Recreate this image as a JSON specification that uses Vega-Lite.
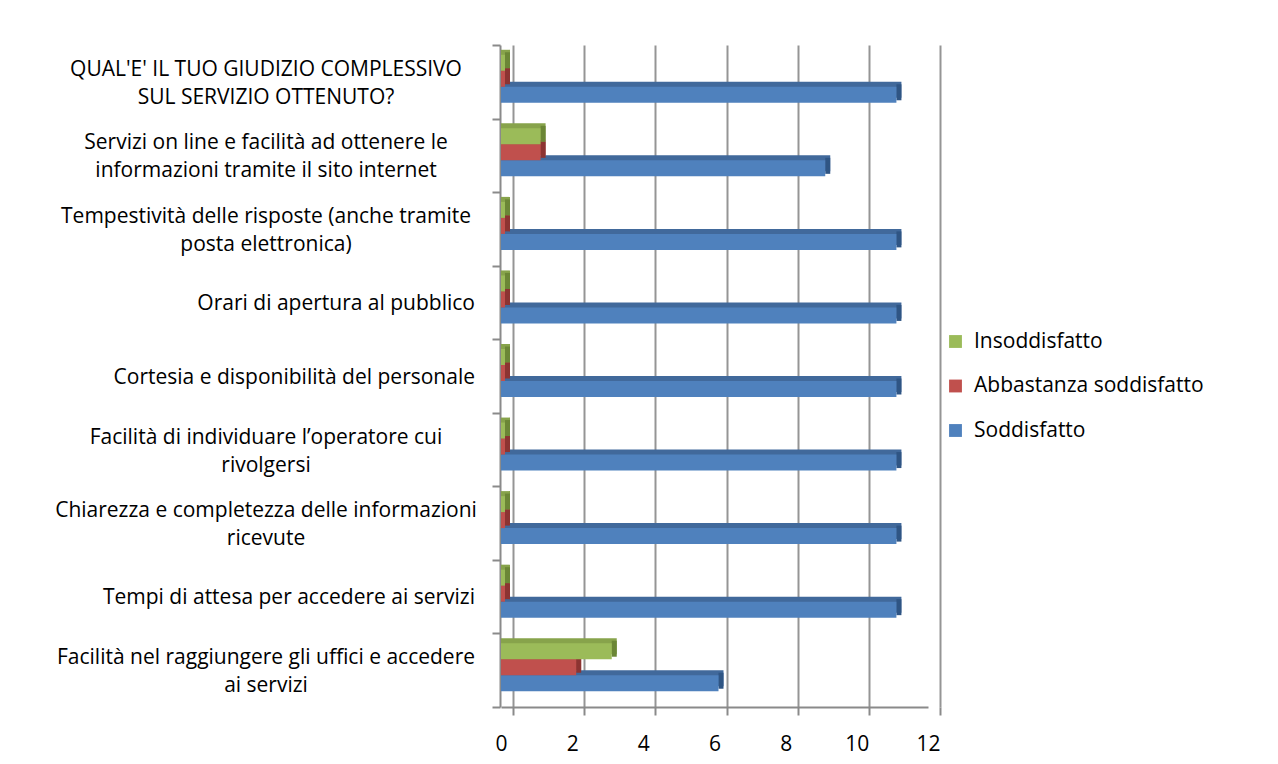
{
  "$schema": "https://vega.github.io/schema/vega-lite/v6.json",
  "width": 427,
  "height": 662,
  "autosize": {"type": "none"},
  "padding": {"left": 501, "top": 45, "right": 350, "bottom": 57},
  "background": "white",
  "title": {"text": "Farmacia comunale", "anchor": "start", "frame": "group", "font": "Liberation Serif", "fontSize": 37, "fontWeight": "bold", "color": "#000000", "offset": 37, "baseline": "alphabetic", "dx": -501},
  "data": {"values": [
    {"domanda": "QUAL'E' IL TUO GIUDIZIO COMPLESSIVO\nSUL SERVIZIO OTTENUTO?", "giudizio": "Soddisfatto", "n": 11},
    {"domanda": "QUAL'E' IL TUO GIUDIZIO COMPLESSIVO\nSUL SERVIZIO OTTENUTO?", "giudizio": "Abbastanza soddisfatto", "n": 0},
    {"domanda": "QUAL'E' IL TUO GIUDIZIO COMPLESSIVO\nSUL SERVIZIO OTTENUTO?", "giudizio": "Insoddisfatto", "n": 0},
    {"domanda": "Servizi on line e facilità ad ottenere le\ninformazioni tramite il sito internet", "giudizio": "Soddisfatto", "n": 9},
    {"domanda": "Servizi on line e facilità ad ottenere le\ninformazioni tramite il sito internet", "giudizio": "Abbastanza soddisfatto", "n": 1},
    {"domanda": "Servizi on line e facilità ad ottenere le\ninformazioni tramite il sito internet", "giudizio": "Insoddisfatto", "n": 1},
    {"domanda": "Tempestività delle risposte (anche tramite\nposta elettronica)", "giudizio": "Soddisfatto", "n": 11},
    {"domanda": "Tempestività delle risposte (anche tramite\nposta elettronica)", "giudizio": "Abbastanza soddisfatto", "n": 0},
    {"domanda": "Tempestività delle risposte (anche tramite\nposta elettronica)", "giudizio": "Insoddisfatto", "n": 0},
    {"domanda": "Orari di apertura al pubblico", "giudizio": "Soddisfatto", "n": 11},
    {"domanda": "Orari di apertura al pubblico", "giudizio": "Abbastanza soddisfatto", "n": 0},
    {"domanda": "Orari di apertura al pubblico", "giudizio": "Insoddisfatto", "n": 0},
    {"domanda": "Cortesia e disponibilità del personale", "giudizio": "Soddisfatto", "n": 11},
    {"domanda": "Cortesia e disponibilità del personale", "giudizio": "Abbastanza soddisfatto", "n": 0},
    {"domanda": "Cortesia e disponibilità del personale", "giudizio": "Insoddisfatto", "n": 0},
    {"domanda": "Facilità di individuare l’operatore cui\nrivolgersi", "giudizio": "Soddisfatto", "n": 11},
    {"domanda": "Facilità di individuare l’operatore cui\nrivolgersi", "giudizio": "Abbastanza soddisfatto", "n": 0},
    {"domanda": "Facilità di individuare l’operatore cui\nrivolgersi", "giudizio": "Insoddisfatto", "n": 0},
    {"domanda": "Chiarezza e completezza delle informazioni\nricevute", "giudizio": "Soddisfatto", "n": 11},
    {"domanda": "Chiarezza e completezza delle informazioni\nricevute", "giudizio": "Abbastanza soddisfatto", "n": 0},
    {"domanda": "Chiarezza e completezza delle informazioni\nricevute", "giudizio": "Insoddisfatto", "n": 0},
    {"domanda": "Tempi di attesa per accedere ai servizi", "giudizio": "Soddisfatto", "n": 11},
    {"domanda": "Tempi di attesa per accedere ai servizi", "giudizio": "Abbastanza soddisfatto", "n": 0},
    {"domanda": "Tempi di attesa per accedere ai servizi", "giudizio": "Insoddisfatto", "n": 0},
    {"domanda": "Facilità nel raggiungere gli uffici e accedere\nai servizi", "giudizio": "Soddisfatto", "n": 6},
    {"domanda": "Facilità nel raggiungere gli uffici e accedere\nai servizi", "giudizio": "Abbastanza soddisfatto", "n": 2},
    {"domanda": "Facilità nel raggiungere gli uffici e accedere\nai servizi", "giudizio": "Insoddisfatto", "n": 3}
  ]},
  "encoding": {
    "y": {
      "field": "domanda", "type": "nominal", "sort": null,
      "scale": {"paddingInner": 0, "paddingOuter": 0},
      "axis": {
        "title": null, "offset": 1, "labels": false,
        "domainColor": "#8a8a8a", "domainWidth": 2,
        "tickColor": "#8a8a8a", "tickWidth": 2, "tickSize": 8, "tickBand": "extent",
        "grid": false
      }
    },
    "x": {
      "field": "n", "type": "quantitative", "stack": null,
      "scale": {"domain": [0, 12], "nice": false, "zero": true},
      "axis": {
        "title": null,
        "values": [0, 2, 4, 6, 8, 10, 12],
        "grid": true, "gridColor": "#959595", "gridWidth": 2,
        "tickOffset": 12, "labelOffset": -12,
        "tickSize": 8, "tickColor": "#8a8a8a", "tickWidth": 2,
        "domainColor": "#8a8a8a", "domainWidth": 2,
        "labelFont": "Open Sans", "labelFontSize": 21, "labelColor": "#000000", "labelPadding": 18,
        "labelFlush": false, "labelOverlap": false
      }
    }
  },
  "layer": [
    {
      "transform": [{"filter": "datum.giudizio == 'Soddisfatto'"}],
      "mark": {"type": "bar", "size": 16, "xOffset": 9, "x2Offset": 4, "yOffset": 8, "color": "#41699b"}
    },
    {
      "transform": [{"filter": "datum.giudizio == 'Abbastanza soddisfatto'"}],
      "mark": {"type": "bar", "size": 16, "xOffset": 9, "x2Offset": 4, "yOffset": -8, "color": "#a84744"}
    },
    {
      "transform": [{"filter": "datum.giudizio == 'Insoddisfatto'"}],
      "mark": {"type": "bar", "size": 16, "xOffset": 9, "x2Offset": 4, "yOffset": -24, "color": "#87a34b"}
    },
    {
      "transform": [{"filter": "datum.giudizio == 'Soddisfatto'"}],
      "mark": {"type": "bar", "size": 16, "xOffset": 4, "x2Offset": 9, "yOffset": 10.5, "color": "#2f5584"},
      "encoding": {"x2": {"field": "n"}}
    },
    {
      "transform": [{"filter": "datum.giudizio == 'Abbastanza soddisfatto'"}],
      "mark": {"type": "bar", "size": 16, "xOffset": 4, "x2Offset": 9, "yOffset": -5.5, "color": "#8c3432"},
      "encoding": {"x2": {"field": "n"}}
    },
    {
      "transform": [{"filter": "datum.giudizio == 'Insoddisfatto'"}],
      "mark": {"type": "bar", "size": 16, "xOffset": 4, "x2Offset": 9, "yOffset": -21.5, "color": "#6b8636"},
      "encoding": {"x2": {"field": "n"}}
    },
    {
      "transform": [{"filter": "datum.giudizio == 'Soddisfatto'"}],
      "mark": {"type": "bar", "size": 16, "xOffset": 4, "x2Offset": 4, "yOffset": 13},
      "encoding": {
        "color": {
          "field": "giudizio", "type": "nominal",
          "scale": {"domain": ["Insoddisfatto", "Abbastanza soddisfatto", "Soddisfatto"], "range": ["#9BBB59", "#C0504D", "#4F81BD"]},
          "legend": {
            "orient": "none", "legendX": 444, "legendY": 286, "title": null,
            "symbolType": "square", "symbolSize": 165, "symbolStrokeWidth": 0,
            "labelFont": "Open Sans", "labelFontSize": 21, "labelColor": "#000000",
            "rowPadding": 22.5, "labelOffset": 8, "labelLimit": 400
          }
        }
      }
    },
    {
      "transform": [{"filter": "datum.giudizio == 'Abbastanza soddisfatto'"}],
      "mark": {"type": "bar", "size": 16, "xOffset": 4, "x2Offset": 4, "yOffset": -3},
      "encoding": {"color": {"field": "giudizio", "type": "nominal"}}
    },
    {
      "transform": [{"filter": "datum.giudizio == 'Insoddisfatto'"}],
      "mark": {"type": "bar", "size": 16, "xOffset": 4, "x2Offset": 4, "yOffset": -19},
      "encoding": {"color": {"field": "giudizio", "type": "nominal"}}
    },
    {
      "transform": [{"filter": "datum.giudizio == 'Soddisfatto' && indexof(datum.domanda, '\\n') < 0"}],
      "mark": {"type": "text", "align": "right", "baseline": "middle", "font": "Open Sans", "fontSize": 21, "color": "#000000", "xOffset": -26, "yOffset": 1.5},
      "encoding": {"x": {"datum": 0}, "text": {"field": "domanda"}}
    },
    {
      "transform": [{"filter": "datum.giudizio == 'Soddisfatto' && indexof(datum.domanda, '\\n') >= 0"}],
      "mark": {"type": "text", "align": "center", "baseline": "middle", "font": "Open Sans", "fontSize": 21, "color": "#000000", "lineBreak": "\n", "lineHeight": 28, "xOffset": -235, "yOffset": -12},
      "encoding": {"x": {"datum": 0}, "text": {"field": "domanda"}}
    }
  ],
  "config": {
    "view": {"stroke": null},
    "font": "Open Sans"
  }
}
